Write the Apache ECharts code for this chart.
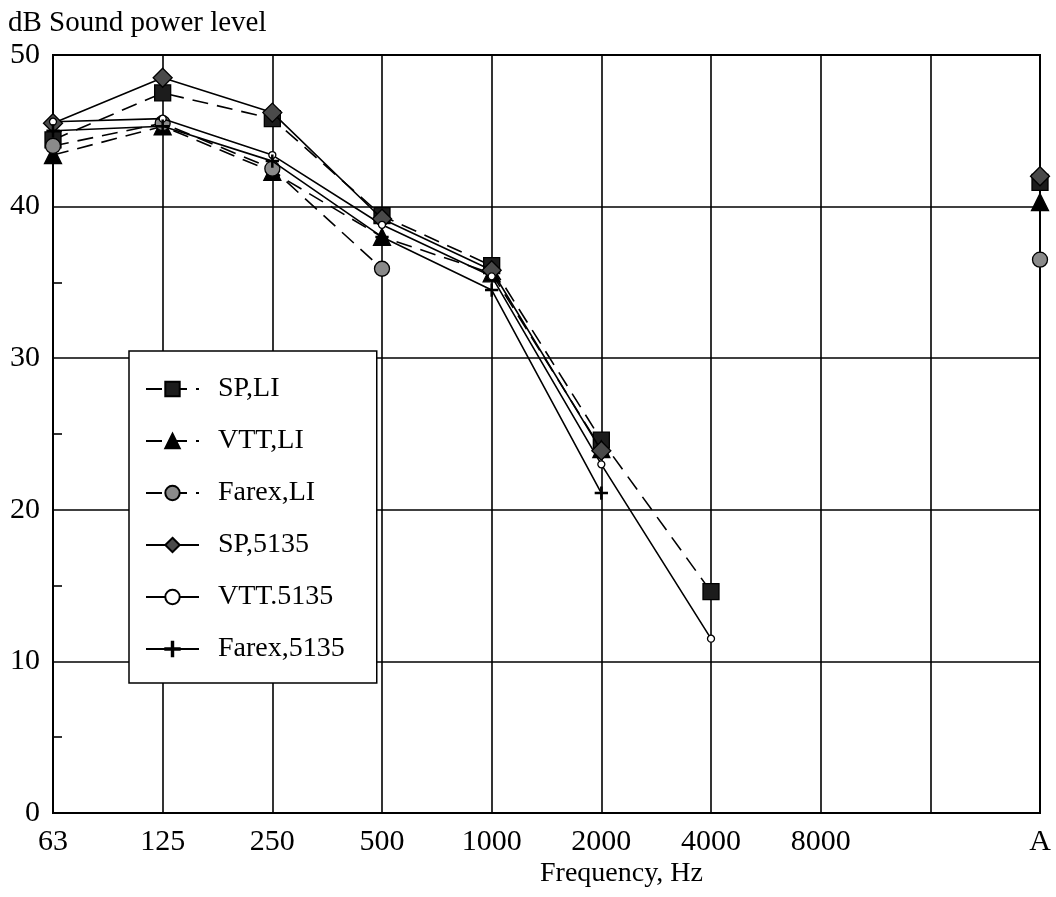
<!DOCTYPE html>
<html><head><meta charset="utf-8">
<script src="https://cdn.jsdelivr.net/npm/echarts@6/dist/echarts.min.js"></script>
<style>html,body{margin:0;padding:0;background:#fff}#c{width:1056px;height:897px}</style>
</head><body><div id="c"></div>
<script>
const categories = ['63','125','250','500','1000','2000','4000','8000','','A'];
const yTicks = [0,10,20,30,40,50];
const spLI      = [44.4, 47.5, 45.8, 39.4, 36.1, 24.6, 14.6, null, null, 41.6];
const vttLI     = [43.4, 45.3, 42.3, 38.0, 35.6, 24.0, null, null, null, 40.3];
const farexLI   = [44.0, 45.5, 42.5, 35.9, null, null, null, null, null, 36.5];
const sp5135    = [45.5, 48.5, 46.2, 39.2, 35.8, 23.9, null, null, null, 42.0];
const vtt5135   = [45.6, 45.8, 43.4, 38.8, 35.4, 23.0, 11.5, null, null, null];
const farex5135 = [45.0, 45.3, 43.0, 38.0, 34.5, 21.1, null, null, null, null];

const FONT = '"Liberation Serif", "DejaVu Serif", serif';
const dash = [16, 9];
const plusPath = 'path://M9,0h2v20h-2z M0,9h20v2h-20z';

function mk(name, data, dashed, symbol, size, fill, z) {
  return {
    name, type: 'line', data, z,
    connectNulls: false,
    symbol, symbolSize: size, symbolKeepAspect: true,
    showAllSymbol: true,
    lineStyle: { color: '#000', width: 1.6, type: dashed ? dash : 'solid' },
    itemStyle: { color: fill, borderColor: '#000', borderWidth: 1.3, opacity: 1 },
    emphasis: { disabled: true },
    animation: false
  };
}

const chart = echarts.init(document.getElementById('c'), null, { renderer: 'canvas' });
chart.setOption({
  backgroundColor: '#fff',
  animation: false,
  textStyle: { fontFamily: FONT, color: '#000' },
  grid: { left: 53, right: 16, top: 55, bottom: 84, show: true, borderColor: '#000', borderWidth: 2, backgroundColor: 'transparent' },
  legend: {
    orient: 'vertical', left: 129, top: 351,
    backgroundColor: '#fff', borderColor: '#000', borderWidth: 1.5, borderRadius: 0,
    padding: [24, 32, 20, 16],
    itemWidth: 53, itemHeight: 18, itemGap: 24,
    textStyle: { fontFamily: FONT, fontSize: 28, color: '#000', padding: [0, 0, 0, 14] },
    selectedMode: false,
    data: ['SP,LI', 'VTT,LI', 'Farex,LI', 'SP,5135', 'VTT.5135', 'Farex,5135']
  },
  xAxis: {
    type: 'category', data: categories, boundaryGap: false,
    axisLine: { lineStyle: { color: '#000', width: 2 } },
    axisTick: { show: false },
    axisLabel: { color: '#000', fontFamily: FONT, fontSize: 30, margin: 14, interval: 0 },
    splitLine: { show: true, lineStyle: { color: '#000', width: 1.6 } }
  },
  yAxis: {
    type: 'value', min: yTicks[0], max: yTicks[yTicks.length - 1], interval: 10,
    axisLine: { show: true, lineStyle: { color: '#000', width: 2 } },
    axisTick: { show: false },
    minorTick: { show: true, splitNumber: 2, length: -9, lineStyle: { color: '#000', width: 1.6 } },
    axisLabel: { color: '#000', fontFamily: FONT, fontSize: 30, margin: 13 },
    splitLine: { show: true, lineStyle: { color: '#000', width: 1.6 } }
  },
  graphic: [
    { type: 'text', left: 8, top: 9, style: { text: 'dB Sound power level', font: '29px ' + FONT, fill: '#000' } },
    { type: 'text', left: 540, top: 860, style: { text: 'Frequency, Hz', font: '28px ' + FONT, fill: '#000' } }
  ],
  series: [
    mk('SP,LI', spLI, true, 'rect', 16, '#1c1c1c', 3),
    mk('VTT,LI', vttLI, true, 'triangle', 17, '#000', 3),
    mk('Farex,LI', farexLI, true, 'circle', 15, '#8a8a8a', 3),
    mk('SP,5135', sp5135, false, 'diamond', 19, '#4a4a4a', 4),
    mk('VTT.5135', vtt5135, false, 'circle', 7, '#fff', 4),
    mk('Farex,5135', farex5135, false, plusPath, 12, '#000', 4)
  ]
});
</script>
</body></html>
